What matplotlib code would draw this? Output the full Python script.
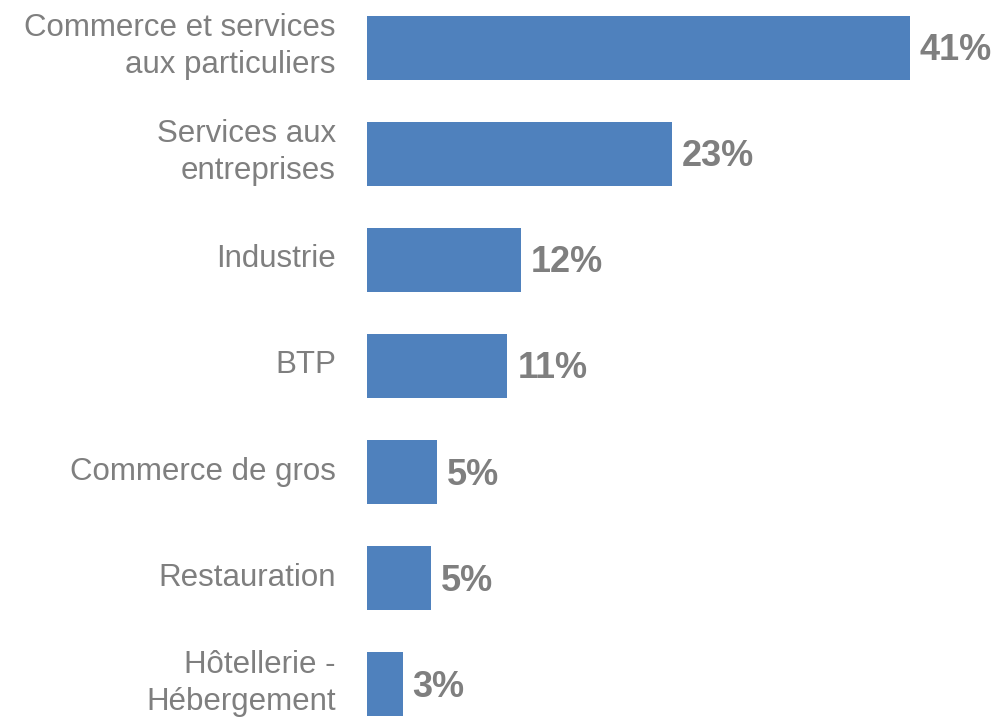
#!/usr/bin/env python3

import matplotlib
matplotlib.use("Agg")
import matplotlib.pyplot as plt
from matplotlib.transforms import ScaledTranslation

# Répartition par secteur
categories = ["Commerce et services\naux particuliers", "Services aux\nentreprises", "Industrie",
              "BTP", "Commerce de gros", "Restauration", "Hôtellerie -\nHébergement"]
values = [41.0, 23.0, 11.6, 10.6, 5.3, 4.8, 2.7]
value_labels = ["41%", "23%", "12%", "11%", "5%", "5%", "3%"]

bar_color = "#4F81BD"
text_color = "#7F7F7F"

plt.rcParams['font.family'] = ['Liberation Sans', 'DejaVu Sans']

fig = plt.figure(figsize=(9.97, 7.17), dpi=100)
px_per_unit = 13.24
ax = fig.add_axes([367 / 997, 1 - 716 / 717, 1 - 367 / 997, 700 / 717])

pos = list(range(len(categories)))
ax.barh(pos, values, height=0.6, color=bar_color)

ax.set_xlim(0, 630 / px_per_unit)
ax.set_ylim(6.3, -0.3)

ax.set_yticks(pos)
ax.set_yticklabels(categories, fontsize=22.5, color=text_color, linespacing=1.3)
ax.tick_params(axis='y', length=0, pad=22.5)
# les libellés sont un peu au-dessus du centre des barres
for lbl in ax.get_yticklabels():
    shift = 8 if "\n" in lbl.get_text() else 4
    up = ScaledTranslation(0, shift / 100, fig.dpi_scale_trans)
    lbl.set_transform(lbl.get_transform() + up)
ax.set_xticks([])
for sp in ax.spines.values():
    sp.set_visible(False)

down = ScaledTranslation(0, -3 / 100, fig.dpi_scale_trans)
for p, v, lab in zip(pos, values, value_labels):
    ax.text(v + 0.75, p, lab, va='center', ha='left', fontsize=26, fontweight='bold',
            color=text_color, transform=ax.transData + down)

fig.savefig("out.png", dpi=100)
